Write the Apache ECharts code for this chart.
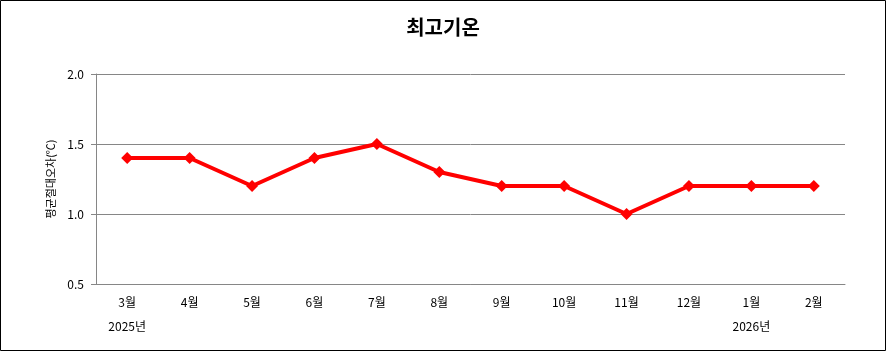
<!DOCTYPE html>
<html>
<head>
<meta charset="utf-8">
<script src="https://cdn.jsdelivr.net/npm/echarts@6/dist/echarts.min.js"></script>
<style>
  html, body { margin: 0; padding: 0; background: #fff; }
  #chart { width: 886px; height: 351px; }
</style>
</head>
<body>
<div id="chart"></div>
<script>
// 월별 카테고리와 값
var months = ["3월", "4월", "5월", "6월", "7월", "8월", "9월", "10월", "11월", "12월", "1월", "2월"];
var years = ["2025년", "", "", "", "", "", "", "", "", "", "2026년", ""];
var maxTemp = [1.4, 1.4, 1.2, 1.4, 1.5, 1.3, 1.2, 1.2, 1.0, 1.2, 1.2, 1.2];

var font = '"Noto Sans CJK KR", "Noto Sans", sans-serif';
var chart = echarts.init(document.getElementById("chart"));

var option = {
  animation: false,
  title: {
    text: "최고기온",
    left: "center",
    top: 12,
    textStyle: { fontFamily: font, fontSize: 20, fontWeight: "bold", color: "#000" }
  },
  graphic: [{
    type: "rect",
    shape: { x: 0.5, y: 0.5, width: 885, height: 350 },
    style: { fill: "none", stroke: "#000", lineWidth: 1 }
  }],
  grid: { left: 96, right: 41, top: 74, bottom: 67 },
  xAxis: [
    {
      type: "category",
      data: months,
      axisLine: { lineStyle: { color: "#868686" } },
      axisTick: { length: 5, lineStyle: { color: "#868686" } },
      axisLabel: { fontFamily: font, fontSize: 12, color: "#000", margin: 12 }
    },
    {
      type: "category",
      data: years,
      position: "bottom",
      offset: 24,
      axisLine: { show: false },
      axisTick: { show: false },
      axisLabel: { fontFamily: font, fontSize: 12, color: "#000", margin: 12, interval: 0 }
    }
  ],
  yAxis: {
    type: "value",
    min: 0.5,
    max: 2.0,
    interval: 0.5,
    name: "평균절대오차(℃)",
    nameLocation: "middle",
    nameGap: 38,
    nameTextStyle: { fontFamily: font, fontSize: 11, color: "#000" },
    axisLine: { show: true, lineStyle: { color: "#868686" } },
    axisTick: { show: true, length: 5, lineStyle: { color: "#868686" } },
    axisLabel: {
      fontFamily: font, fontSize: 12, color: "#000", margin: 12,
      formatter: function (v) { return v.toFixed(1); }
    },
    splitLine: { lineStyle: { color: "#868686" } }
  },
  series: [{
    type: "line",
    data: maxTemp,
    symbol: "diamond",
    symbolSize: 12,
    lineStyle: { color: "#ff0000", width: 4 },
    itemStyle: { color: "#ff0000" }
  }]
};
chart.setOption(option);
</script>
</body>
</html>
